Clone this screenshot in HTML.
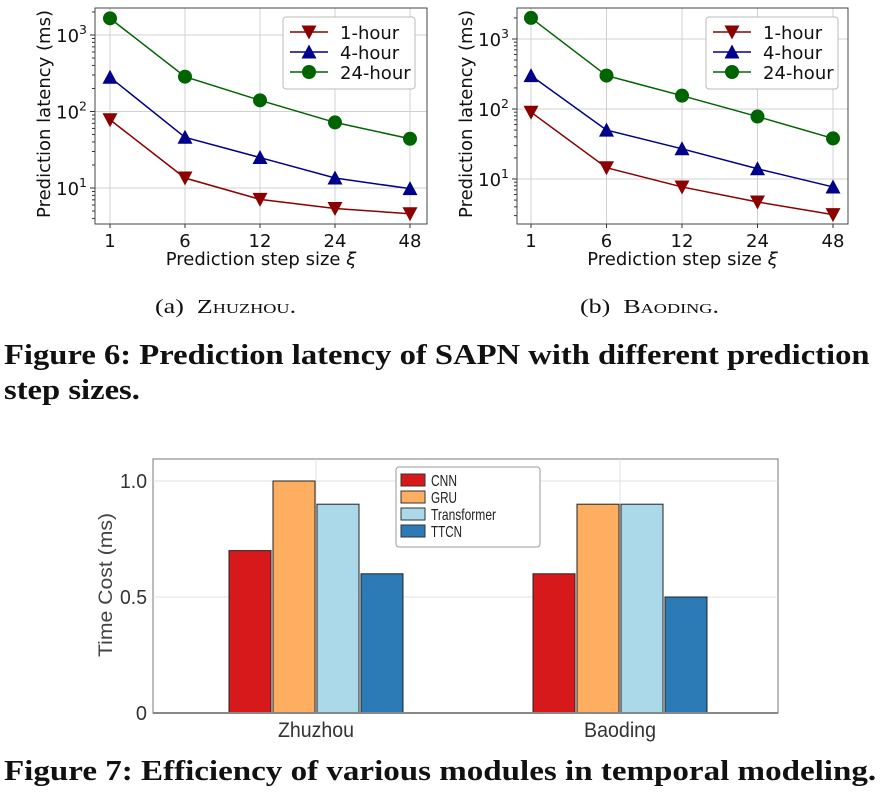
<!DOCTYPE html>
<html><head><meta charset="utf-8"><style>
body{margin:0;background:#fff;width:885px;height:794px;overflow:hidden;position:relative;font-family:"Liberation Serif",serif}
.cap{position:absolute;font-size:20px;color:#111;transform-origin:0 0;transform:scaleX(1.3);white-space:nowrap}
.fig{position:absolute;left:4px;font-weight:bold;font-size:28px;color:#111;white-space:nowrap;transform-origin:0 0}
svg{position:absolute;left:0;top:0}
</style></head><body>
<svg id="s" width="885" height="794"></svg>
<div class="cap" style="left:155px;top:296px">(a)&nbsp; <span style="font-variant:small-caps">Zhuzhou.</span></div>
<div class="cap" style="left:580px;top:296px">(b)&nbsp; <span style="font-variant:small-caps">Baoding.</span></div>
<div class="fig" style="top:340px;transform:scaleX(1.165)">Figure 6: Prediction latency of SAPN with different prediction</div>
<div class="fig" style="top:375px;transform:scaleX(1.165)">step sizes.</div>
<div class="fig" style="top:756px;transform:scaleX(1.18)">Figure 7: Efficiency of various modules in temporal modeling.</div>
<script>
const steps=["1","6","12","24","48"];
const seriesNames=["1-hour","4-hour","24-hour"];
const zhu1h=[78,13.5,7.1,5.4,4.6];
const zhu4h=[280,46,25,13.5,9.8];
const zhu24h=[1650,285,140,72,44];
const bao1h=[90,14.5,7.7,4.7,3.1];
const bao4h=[300,50,27,14,7.7];
const bao24h=[2000,300,155,78,38];
const barGroups=["Zhuzhou","Baoding"];
const barModels=["CNN","GRU","Transformer","TTCN"];
const barZhuzhou=[0.7,1.0,0.9,0.6];
const barBaoding=[0.6,0.9,0.9,0.5];
const barTicks=[0,0.5,1.0];

const NS="http://www.w3.org/2000/svg";
const svg=document.getElementById('s');
function mk(t,a,p){const e=document.createElementNS(NS,t);for(const k in a)e.setAttribute(k,a[k]);(p||svg).appendChild(e);return e;}
const SF='"DejaVu Sans","Liberation Sans",sans-serif';

function lineChart(o,d1,d4,d24,name){
  const g=mk('g',{});
  
  
  const y=v=>o.y10-(Math.log10(v)-1)*o.dec;
  const x=i=>o.x1+i*(o.x48-o.x1)/4;
  steps.forEach((s,i)=>{mk('line',{x1:x(i),x2:x(i),y1:o.top,y2:o.bot,stroke:'#d0d0d0','stroke-width':1},g);
    mk('line',{x1:x(i),x2:x(i),y1:o.bot,y2:o.bot+4,stroke:'#333'},g);
    const t=mk('text',{x:x(i),y:o.bot+23,'text-anchor':'middle','font-size':18,'font-family':SF,fill:'#111'},g);t.textContent=s;
    });
  [1,2,3].forEach(p=>{const yy=y(Math.pow(10,p));
    mk('line',{x1:o.left,x2:o.right,y1:yy,y2:yy,stroke:'#d0d0d0'},g);
    mk('line',{x1:o.left-5,x2:o.left,y1:yy,y2:yy,stroke:'#333'},g);
    const t=mk('text',{x:o.left-8,y:yy+7,'text-anchor':'end','font-size':18,'font-family':SF,fill:'#111'},g);
    t.innerHTML='10<tspan dy="-8" font-size="12.5">'+p+'</tspan>';
    });
  for(let p=0;p<4;p++)for(let m=2;m<10;m++){const yy=y(m*Math.pow(10,p));if(yy>o.top&&yy<o.bot)mk('line',{x1:o.left-3,x2:o.left,y1:yy,y2:yy,stroke:'#333'},g);}
  mk('rect',{x:o.left,y:o.top,width:o.right-o.left,height:o.bot-o.top,fill:'none',stroke:'#444','stroke-width':1},g);
  const sers=[[d1,'#8b0000','down'],[d4,'#00008b','up'],[d24,'#006400','circ']];
  sers.forEach(([d,c,m],si)=>{
    const pl=mk('polyline',{points:d.map((v,i)=>x(i)+','+y(v)).join(' '),fill:'none',stroke:c,'stroke-width':1.5},g);
    
    d.forEach((v,i)=>marker(g,x(i),y(v),m,c));
  });
  const lx=o.lx,ly=17;
  const lg=mk('rect',{x:lx,y:ly,width:132,height:72,rx:3,fill:'#fff',stroke:'#bbb'},g);
  
  sers.forEach(([d,c,m],i)=>{const yy=ly+15+i*20;
    mk('line',{x1:lx+7,x2:lx+45,y1:yy,y2:yy,stroke:c,'stroke-width':1.5},g);marker(g,lx+26,yy,m,c);
    const t=mk('text',{x:lx+57,y:yy+7,'font-size':18,'font-family':SF,fill:'#111'},g);t.textContent=seriesNames[i];
    });
  const xl=mk('text',{x:(o.left+o.right)/2,y:o.bot+41,'text-anchor':'middle','font-size':18,'font-family':SF,fill:'#111'},g);
  xl.innerHTML='Prediction step size <tspan font-style="italic">ξ</tspan>';
  
  const yl=mk('text',{x:0,y:0,transform:`translate(${o.left-45},${(o.top+o.bot)/2-2}) rotate(-90)`,'text-anchor':'middle','font-size':18,'font-family':SF,fill:'#111'},g);
  yl.textContent='Prediction latency (ms)';
  
}
function marker(g,x,y,m,c){
  let e;
  if(m==='circ')e=mk('circle',{cx:x,cy:y,r:7,fill:c},g);
  else if(m==='down')e=mk('polygon',{points:`${x-7.5},${y-6.5} ${x+7.5},${y-6.5} ${x},${y+7.5}`,fill:c},g);
  else e=mk('polygon',{points:`${x-7.5},${y+6.5} ${x+7.5},${y+6.5} ${x},${y-7.5}`,fill:c},g);
  
}
lineChart({left:95,right:427,top:8,bot:224,x1:110,x48:410,y10:188,dec:76.5,lx:283},zhu1h,zhu4h,zhu24h,'zhuzhou-latency-chart');
lineChart({left:517,right:848,top:8,bot:224,x1:531,x48:833,y10:179,dec:70,lx:706},bao1h,bao4h,bao24h,'baoding-latency-chart');

(function(){
  const L=153,R=778,T=459,B=713,y0=713,ppu=232;
  const y=v=>y0-v*ppu;
  const centers=[316,620];
  const colors=['#d7191c','#fdae61','#abd9e9','#2c7bb6'];
  const BW=42,ST=44;
  const g=mk('g',{});
  
  mk('rect',{x:L,y:T,width:R-L,height:B-T,fill:'#fff',stroke:'#777'},g);
  barTicks.forEach(v=>{mk('line',{x1:L,x2:R,y1:y(v),y2:y(v),stroke:'#e2e2e2'},g);
    const lbl=v===0?'0':v.toFixed(1);
    const a={x:L-6,y:y(v)+7,'text-anchor':'end','font-size':20,'font-family':'"Liberation Sans",sans-serif',fill:'#333'};
    if(lbl.length>1){a.textLength=27;a.lengthAdjust='spacingAndGlyphs';}
    const t=mk('text',a,g);
    t.textContent=lbl;});
  centers.forEach((c,gi)=>{mk('line',{x1:c,x2:c,y1:T,y2:B,stroke:'#e2e2e2'},g);
    const t=mk('text',{x:c,y:B+24,'text-anchor':'middle','font-size':21,'font-family':'"Liberation Sans",sans-serif',fill:'#333',textLength:gi===0?76:72,lengthAdjust:'spacingAndGlyphs'},g);
    t.textContent=barGroups[gi];
    const vals=gi===0?barZhuzhou:barBaoding;
    vals.forEach((v,i)=>{const x=c-2*ST+i*ST+1;
      const r=mk('rect',{x:x,y:y(v),width:BW,height:y0-y(v),fill:colors[i],stroke:'#222','stroke-width':1},g);
      });
  });
  mk('line',{x1:L,x2:R,y1:B,y2:B,stroke:'#888','stroke-width':2},g);
  const lx=396,ly=467;
  const lg=mk('rect',{x:lx,y:ly,width:144,height:80,rx:3,fill:'#fff',stroke:'#999'},g);
  
  barModels.forEach((m,i)=>{const yy=ly+7+i*17;
    mk('rect',{x:lx+5,y:yy,width:24,height:12,fill:colors[i],stroke:'#333'},g);
    const t=mk('text',{x:lx+35,y:yy+12,'font-size':16,'font-family':'"Liberation Sans",sans-serif',fill:'#222',textLength:[26,26,65,31][i],lengthAdjust:'spacingAndGlyphs'},g);
    t.textContent=m;});
  const yl=mk('text',{x:0,y:0,transform:`translate(112,585) rotate(-90)`,'text-anchor':'middle','font-size':19,'font-family':'"Liberation Sans",sans-serif',fill:'#444',textLength:144,lengthAdjust:'spacingAndGlyphs'},g);
  yl.textContent='Time Cost (ms)';
})();
</script>
</body></html>
